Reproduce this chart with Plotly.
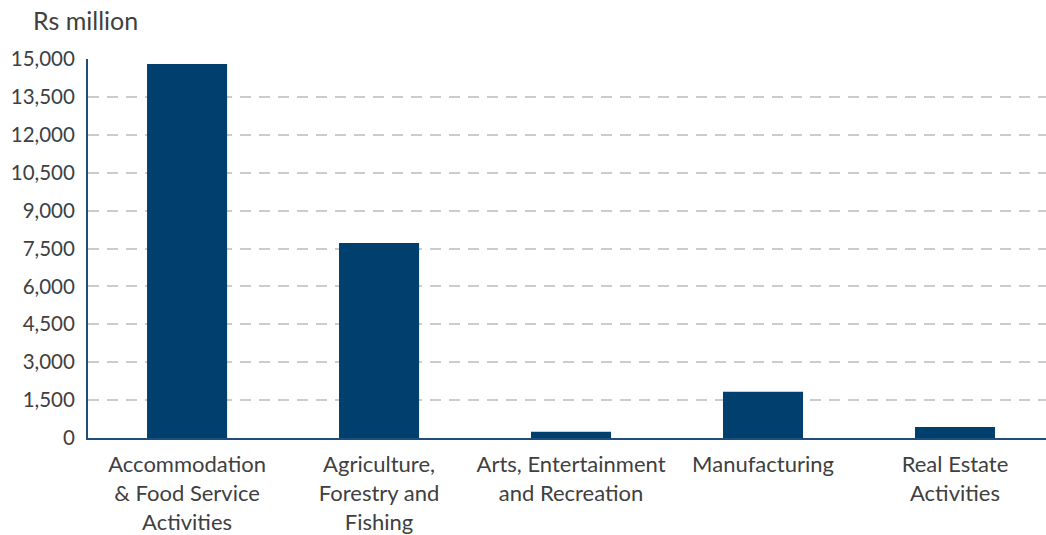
import plotly.graph_objects as go

categories = ["Accommodation<br>& Food Service<br>Activities",
              "Agriculture,<br>Forestry and<br>Fishing",
              "Arts, Entertainment<br>and Recreation",
              "Manufacturing",
              "Real Estate<br>Activities"]
values = [14800, 7720, 250, 1830, 440]
tick_vals = [0, 1500, 3000, 4500, 6000, 7500, 9000, 10500, 12000, 13500, 15000]
tick_text = ["0", "1,500", "3,000", "4,500", "6,000", "7,500", "9,000", "10,500", "12,000", "13,500", "15,000"]

FONT = "Lato, Open Sans, sans-serif"
fig = go.Figure(go.Bar(x=categories, y=values, marker_color="#003f6e", marker_line_width=0))
fig.update_layout(
    width=1046, height=535,
    margin=dict(l=88, r=0, t=59, b=97),
    paper_bgcolor="white", plot_bgcolor="white",
    bargap=0.583, showlegend=False,
    font=dict(family=FONT, size=22, color="#404040"),
)
fig.add_annotation(text="Rs million", xref="paper", yref="paper", x=-0.06, y=1.103,
                   xanchor="left", yanchor="middle", showarrow=False,
                   font=dict(family=FONT, size=25, color="#404040"))
fig.update_yaxes(range=[0, 15000], tickvals=tick_vals, ticktext=tick_text, automargin=False,
                 showgrid=True, gridcolor="#cccccc", griddash="11px,8px", gridwidth=1.5,
                 showline=True, linecolor="#1f4e79", linewidth=2, ticks="", zeroline=False,
                 ticklabelstandoff=7,
                 tickfont=dict(family=FONT, size=20.5, color="#404040"))
fig.update_xaxes(range=[-0.516, 4.474], showline=True, linecolor="#1f4e79", linewidth=2,
                 ticks="", automargin=False, ticklabelstandoff=6,
                 tickfont=dict(family=FONT, size=22, color="#404040"))
fig.write_html("out.html", config={"displayModeBar": False},
               post_script="document.body.style.margin='0';")
